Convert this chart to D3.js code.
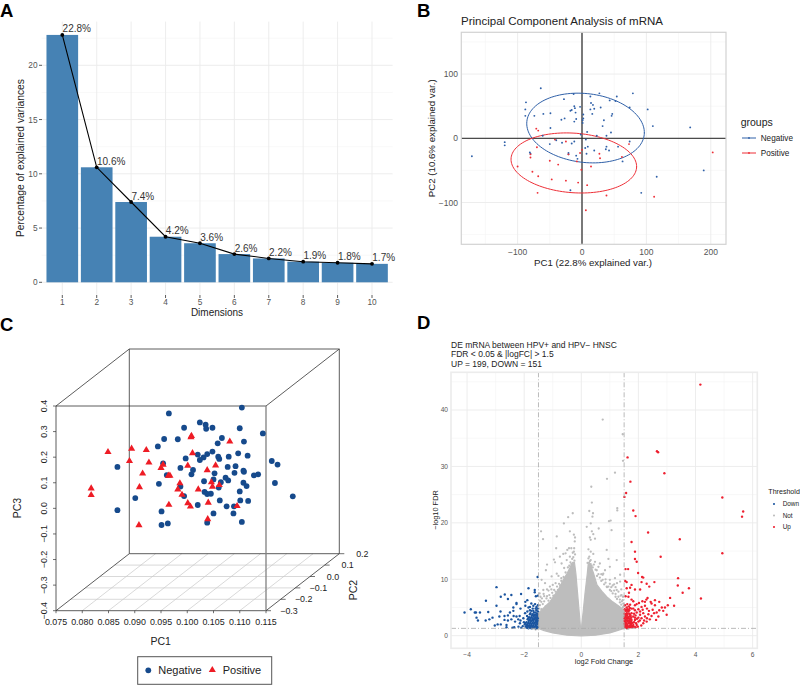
<!DOCTYPE html>
<html>
<head>
<meta charset="utf-8">
<script src="https://cdn.jsdelivr.net/npm/d3@7"></script>
<style>
html,body{margin:0;padding:0;background:#fff}
text{font-family:"Liberation Sans",Arial,sans-serif}
</style>
</head>
<body>
<svg id="c" width="800" height="685"></svg>
<script>
// ---------- Panel A data
const dims=[1,2,3,4,5,6,7,8,9,10];
const variances=[22.8,10.6,7.4,4.2,3.6,2.6,2.2,1.9,1.8,1.7];
const varianceLabels=["22.8%","10.6%","7.4%","4.2%","3.6%","2.6%","2.2%","1.9%","1.8%","1.7%"];
const aYTicks=[0,5,10,15,20];
// ---------- Panel B data: [PC1, PC2]
const bNegative=[[-171,-28],[-120,-6],[-120,-11],[-64,78],[-87,56],[-88,45],[-88,35],[-74,35],[-60,38],[-49,39],[-49,16],[-61,4],[-50,-9],[-40,-3],[-31,-7],[-32,29],[-27,31],[-28,61],[-13,69],[-12,50],[-11,47],[-16,44],[-18,43],[-10,40],[-12,26],[-9,30],[-3,49],[2,37],[2,31],[1,28],[1,24],[13,65],[14,55],[17,52],[19,46],[13,45],[16,38],[27,70],[43,59],[54,65],[52,58],[74,48],[79,70],[102,45],[110,19],[168,17],[29,48],[34,28],[32,19],[47,38],[46,35],[45,9],[38,4],[8,10],[23,4],[-2,6],[6,-2],[-16,-8],[-12,-5],[9,-13],[5,-15],[19,-19],[7,-24],[-9,-27],[-21,-23],[-21,-25],[-7,-32],[38,-13],[37,-17],[42,-19],[56,-13],[63,-36],[74,-5],[-80,-24],[-81,-22],[189,-50],[92,-85],[116,-60],[-18,-81]];
const bPositive=[[-71,15],[-68,12],[-70,-14],[-80,-25],[-80,-30],[-100,-44],[-77,-52],[-68,-59],[-47,-64],[-50,-35],[-37,-41],[-25,-66],[-69,-85],[-6,-69],[8,-73],[14,-44],[-1,-49],[-3,-23],[0,-18],[-25,-5],[-42,-2],[-21,-25],[-8,-36],[27,-24],[28,-31],[62,-29],[73,-9],[38,-89],[6,-112],[112,-91],[203,-22]];
// ellipse summary: centre x, centre y, half-width, half-height, correlation
const bEllipseNegative=[5.5,16,91.3,54.3,-0.13];
const bEllipsePositive=[-12.7,-38.4,97.5,46.8,-0.12];
const bMajor=[-100,0,100,200];
const bGroups=["Negative","Positive"];
// ---------- Panel C data: [PC1, PC3] as read against the front face of the box
const cNegative=[[.1104,.394],[.0965,.371],[.1024,.336],[.1035,.327],[.1036,.311],[.1048,.315],[.0994,.315],[.1100,.313],[.1144,.293],[.0956,.271],[.0982,.270],[.1066,.275],[.1058,.254],[.1108,.261],[.0944,.242],[.0867,.162],[.1020,.210],[.1038,.212],[.1048,.222],[.1059,.202],[.1061,.193],[.1079,.202],[.1097,.215],[.1115,.206],[.0997,.195],[.1024,.189],[.1031,.199],[.0954,.176],[.0987,.158],[.1011,.150],[.1008,.133],[.0961,.130],[.1077,.162],[.1092,.165],[.1090,.139],[.1107,.147],[.1108,.143],[.1052,.137],[.1127,.129],[.1135,.133],[.1161,.185],[.1172,.171],[.1167,.099],[.1201,.047],[.1032,.106],[.1073,.120],[.1078,.109],[.1050,.113],[.1064,.102],[.1060,.081],[.1107,.100],[.1113,.087],[.1100,.066],[.0946,.096],[.0987,.085],[.0994,.048],[.1033,.064],[.1038,.056],[.1045,.057],[.1062,.031],[.1101,.031],[.1116,.029],[.1020,.013],[.1075,.008],[.1089,.008],[.1088,-.020],[.1050,-.020],[.1104,-.053],[.1038,-.056],[.0951,-.012],[.0963,-.059],[.0951,-.065],[.0901,.040],[.0867,-.007]];
const cPositive=[[.0849,.220],[.0894,.233],[.0922,.228],[.0890,.185],[.0927,.179],[.0915,.136],[.0909,.083],[.0817,.078],[.0817,.052],[.0908,-.066],[.0954,.171],[.0950,.158],[.0964,.128],[.0967,.128],[.0986,.098],[.0982,.074],[.0990,.053],[.0965,.014],[.1001,.020],[.1006,.007],[.1008,.283],[.1007,.278],[.1010,.216],[.1001,.167],[.1081,.261],[.1054,.168],[.1038,.149],[.1046,.102],[.1048,.085],[.1061,.091],[.1021,.074],[.1040,.022],[.1095,.009],[.1039,-.042]];
const cPC1Ticks=[.075,.08,.085,.09,.095,.1,.105,.11,.115];
const cPC2Ticks=[-.3,-.2,-.1,0,.1,.2];
const cPC3Ticks=[-.4,-.3,-.2,-.1,0,.1,.2,.3,.4];
// ---------- Panel D data: [log2FC, -log10FDR]
const dMassOutline=[[-1.5,1.3],[-1.5,4],[-1.3,5],[-1.1,6],[-.98,6.9],[-.8,8.2],[-.63,9.9],[-.5,11],[-.38,12.2],[-.3,13],[-.24,13],[-.19,11],[-.13,7.5],[-.07,4],[-.02,1],[.01,1.6],[.07,4.5],[.13,7.5],[.21,11],[.24,12.6],[.3,12.8],[.42,11.2],[.55,9],[.75,7.7],[.89,6.9],[1.1,6],[1.36,5.1],[1.5,4.4],[1.5,1.3],[1.2,.8],[1,.5],[.5,.1],[0,-.05],[-.5,.1],[-1,.5],[-1.3,.9]];
const dNot=[[.75,38.3],[1.45,35.7],[1.46,31],[1.18,28.9],[.9,27.8],[.35,26.4],[.37,23.6],[.28,22.1],[1.26,22.6],[1.26,22.2],[.97,20.3],[1.03,20.4],[-.3,21.7],[-.46,21],[-.61,19.9],[-1.41,18.5],[-1.34,17.1],[-.86,17.6],[-.4,18.5],[-.26,17.9],[.39,21.1],[.41,21.7],[.33,19.9],[.19,19.3],[.61,19],[1.06,18.7],[.37,18.5],[.42,18],[.3,17.4],[.48,17.2],[.33,17],[-.22,17.4],[-.23,16.7],[-.43,15.5],[-.88,15.5],[-.49,15.2],[-.35,15.5],[-.25,15.5],[-.26,14.9],[-.96,13.5],[-.92,13],[-1.24,11.6],[-1.2,12.6],[-.55,14.6],[-.75,14],[-.63,14.5],[-.22,14.4],[.89,15.2],[.25,15.3],[.33,14.9],[.42,14.5],[.28,14],[.33,13.4],[.48,13.1],[.95,13.6],[1.24,13.4],[1,12.2],[.83,11.6],[1.36,10.8],[1.18,10.2],[1,9.9],[1.36,9.6],[1.24,8.1],[1.41,7.2],[1.45,6.3],[1.47,5.7],[-1.39,9.9],[-1.27,9.3],[-1.33,8.1],[-1.43,6.9],[-1.04,10.5],[-.86,11],[-.69,12.8],[-.51,13.4],[.77,11],[.65,12.8],[.54,11.6],[.89,8.7],[-1.2,7],[-1.05,8.2],[-.9,9.3],[-.7,10.2],[1.2,7.4],[1.05,8.6],[.85,10],[.7,10.9],[1.35,6.4],[-1.4,6],
[-1.48,4.8],[-1.45,5.4],[-1.4,4.7],[-1.35,5.6],[-1.3,6.1],[-1.25,5.2],[-1.22,6.6],[-1.15,6.2],[-1.12,7.2],[-1.08,6.7],[-1.02,7.6],[-.98,7.1],[-.95,8.1],[-.9,7.8],[-.85,8.7],[-.82,8.1],[-.78,9.2],[-.74,8.9],[-.7,9.7],[-.66,9.3],[-.62,10.4],[-.58,10],[-.55,11.2],[-.5,10.7],[-.47,12.1],[-.42,12.4],[-.38,13],[-.35,12.7],[-.32,13.6],[-.28,13.9],[-.24,13.3],[-.3,14.7],[-.4,14],[-.6,12],[-.8,10.6],[-1,9],[-1.15,8],[-1.3,7],
[.22,12.9],[.25,13.7],[.27,12.9],[.3,13.2],[.33,12.7],[.36,12.4],[.4,12.1],[.44,12.6],[.5,11.7],[.55,10.6],[.6,10.9],[.65,10.3],[.7,9.7],[.75,9.9],[.8,9.1],[.85,9.4],[.9,8.6],[.95,8.7],[1,8.1],[1.05,7.9],[1.1,7.5],[1.15,8],[1.2,6.9],[1.25,6.5],[1.3,6.9],[1.35,5.9],[1.4,5.5],[1.45,5],[1.48,5.2],[.6,12.2],[.75,10.8],[1,9.2],[1.2,8.6],[1.4,8.2],[-1.6,1.1],[-1.55,1.2],[-1.7,1.25],[1.6,1.2],[1.65,1.25],
[-1.45,6.2],[-1.38,6.6],[-1.32,7.4],[-1.46,7.5],[-1.2,8.2],[-1.1,8.7],[1.46,6.9],[1.38,7.1],[1.3,7.8],[1.42,6.1],[1.15,9.1],[1.1,8.9],[1.25,9.3]];
const dUp=[[4.17,44.5],[2.65,32.7],[2.69,32.5],[1.62,31.6],[2.91,28.8],[1.72,27.3],[1.57,25.3],[1.51,24.6],[4.94,24.5],[1.82,22.2],[1.9,21.2],[5.67,22],[5.63,21.1],[2.34,18.3],[3.45,17.1],[1.76,16.6],[1.88,14.9],[4.94,14.6],[1.88,13.6],[1.94,13.1],[2.78,14],[1.55,11.8],[1.64,11.8],[1.99,11.1],[2.13,10.4],[2.17,10.3],[3.39,10.2],[1.54,9.7],[1.59,9.5],[2.56,9.5],[2.29,9.2],[2.11,9.5],[3.38,8.9],[1.76,9],[2.38,8.7],[1.59,8.4],[1.71,8.5],[1.88,8.2],[2.06,8.2],[3.77,8.4],[3.55,7.6],[4.19,6.6],[3.11,6.7],[1.55,7],[1.67,7.6],[1.65,6.9],[3.25,5.3],[2.32,6.7],[2.28,6.4],[2.23,6],[2.14,6.1],[2.02,5.8],[1.94,5.6],[1.88,5.4],[1.76,6.4],[1.82,6.1],[1.71,5.5],[1.61,5.6],[1.59,5],[1.55,4.4],[1.68,4.5],[1.76,4.8],[1.88,4.5],[2,4.7],[2.11,5.1],[2.23,5.3],[2.37,4.4],[2.46,5.7],[2.58,6.3],[2.43,6],[2.73,6],[2.58,5.4],[2.82,5],[2.93,5],[2.87,4.4],[2.73,4.5],[2.64,4.1],[2.55,4],[2.46,3.5],[2.62,2.8],[2.99,3.7],[3.03,5.4],[2.17,4],[2.06,3.7],[2,3.2],[2.11,3.1],[2.23,3.4],[2.29,2.5],[2.17,2.2],[2,2.5],[1.94,1.9],[1.88,2.8],[1.82,3.4],[1.71,3.7],[1.59,4],[1.65,3.1],[1.76,2.8],[1.53,3.4],[1.53,2.8],[1.57,2.2],[1.53,1.7],[1.61,1.9],[1.71,2.2],[1.82,1.9],[1.71,1.5],[1.59,1.4],[1.76,1.6],[1.88,3.2],[1.65,4.3],[1.76,4],[1.94,4.1],[2.06,4.3],[1.55,1.5],[1.6,1.7],[1.65,1.5],[1.7,1.8],[1.55,2],[1.62,2.5],[1.7,2.6],[1.55,2.4],[1.6,3],[1.68,3.4],[1.55,3.7],[1.6,3.6],[1.75,2.2],[1.85,2.4],[1.8,1.7],[1.9,1.5],[1.65,2.2],[1.58,1.4],[1.72,3],[1.6,4.4],[1.82,4.8],[1.9,3.6],[1.95,3],[2.05,2.7],[2.3,3.1],[2.4,2.9],[2.35,3.8],
[1.52,2.1],[1.56,1.8],[1.63,1.6],[1.68,1.7],[1.74,1.9],[1.78,1.5],[1.84,1.6],[1.52,2.6],[1.58,2.7],[1.64,2.7],[1.68,2.4],[1.74,2.5],[1.8,2.3],[1.52,3.1],[1.57,3.3],[1.63,3.3],[1.69,3],[1.75,3.2],[1.52,3.9],[1.57,3.8],[1.62,3.9],[1.68,3.9],[1.73,3.5],[1.52,4.7],[1.58,4.6],[1.63,4.7],[1.7,4.9],[1.53,5.4],[1.66,5.2],[1.92,2.2],[1.98,1.6],[2.1,1.8],[2.2,2.7],[1.85,3.9],[2.15,4.6],[2.3,4.8],[2.5,4.6],[2.7,3.4]];
const dDown=[[-1.53,10.4],[-2.97,8.6],[-1.85,8.4],[-1.63,8.1],[-1.63,7.7],[-2.68,7.3],[-2.45,7.2],[-2.82,6.9],[-2.11,7.4],[-2.57,6.5],[-3.34,6.2],[-1.59,7],[-1.52,7.1],[-1.89,6.3],[-1.96,6],[-2.27,5.8],[-2.27,5.6],[-2.97,5.3],[-2.38,5],[-2.13,4.8],[-1.96,5.3],[-1.8,5.1],[-1.68,5.3],[-1.57,5.1],[-3.87,4.7],[-4.09,4.1],[-3.73,4.1],[-3.69,4.1],[-3.55,4.1],[-3.67,3.2],[-3.62,2.7],[-3.26,4.2],[-2.83,4.3],[-2.5,4.1],[-2.38,4.4],[-3.35,2.7],[-3.22,2.9],[-3.11,3.2],[-2.87,3.4],[-2.69,3.5],[-2.57,3.6],[-2.69,2.8],[-2.57,2.7],[-2.45,2.9],[-2.37,3.5],[-2.27,3.4],[-2.16,3.5],[-1.97,4],[-1.89,4.3],[-1.8,4.5],[-1.68,4.4],[-1.57,4.5],[-3.03,1.8],[-2.93,2],[-2.82,2],[-2.62,1.9],[-2.62,1.5],[-2.41,1.4],[-2.35,1.5],[-2.21,2.9],[-2.32,2.5],[-2.13,2.7],[-2.03,3.1],[-2.15,2.2],[-2.01,2.4],[-1.95,1.6],[-1.9,1.4],[-1.85,1.3],[-1.8,1.5],[-1.75,1.3],[-1.7,1.4],[-1.65,1.5],[-1.6,1.3],[-1.55,1.4],[-1.52,1.6],[-1.98,2],[-1.9,1.9],[-1.83,1.8],[-1.75,1.9],[-1.68,1.8],[-1.6,1.9],[-1.54,2],[-1.92,2.4],[-1.85,2.3],[-1.78,2.3],[-1.7,2.3],[-1.62,2.3],[-1.55,2.5],[-1.88,2.9],[-1.8,2.8],[-1.72,2.8],[-1.65,2.9],[-1.58,2.8],[-1.52,3],[-1.83,3.3],[-1.75,3.3],[-1.67,3.4],[-1.6,3.3],[-1.54,3.5],[-1.8,3.8],[-1.7,3.8],[-1.62,3.7],[-1.55,3.9],[-1.52,4.3],[-1.9,3.5],[-1.75,4.4],[-1.85,5],
[-1.58,1.7],[-1.63,1.6],[-1.72,1.6],[-1.78,1.7],[-1.87,1.6],[-1.93,1.7],[-1.53,2.2],[-1.57,2.3],[-1.66,2.1],[-1.74,2.1],[-1.81,2.1],[-1.88,2.1],[-1.96,2.2],[-1.53,2.7],[-1.6,2.6],[-1.68,2.6],[-1.76,2.6],[-1.84,2.6],[-1.53,3.3],[-1.57,3.1],[-1.63,3.1],[-1.7,3.1],[-1.78,3.1],[-1.86,3.1],[-1.57,3.6],[-1.65,3.6],[-1.73,3.6],[-1.78,4],[-1.53,3.8],[-1.6,4.1],[-1.66,4.1],[-1.53,4.8],[-1.6,4.8],[-1.7,4.8],[-1.52,5.4],[-1.62,5.6],[-1.75,5.7],[-2.05,1.7],[-2.1,1.4],[-2.2,1.6]];
const dThresholdX=[-1.5,1.5];
const dThresholdY=1.3;
const dXMajor=[-4,-2,0,2,4,6];
const dXMinor=[-3,-1,1,3,5];
const dYMajor=[0,10,20,30,40];
const dYMinor=[5,15,25,35,45];
const dLevels=["Down","Not","Up"];
const dTitleLines=["DE mRNA between HPV+ and HPV− HNSC","FDR < 0.05 & |logFC| > 1.5","UP = 199, DOWN = 151"];

const svg=d3.select("#c");
const MAJOR="#ebebeb",MINOR="#f3f3f3",TICKTXT="#555";
const minus=s=>String(s).replace("-","−");
function txt(g,x,y,s,size,opt={}){
  const t=g.append("text").attr("x",x).attr("y",y).attr("font-size",size).attr("fill",opt.fill||"#222")
   .attr("text-anchor",opt.anchor||"start").attr("font-weight",opt.weight||"normal").text(s);
  if(opt.rot!==undefined)t.attr("transform",`rotate(${opt.rot} ${x} ${y})`);
  return t;
}
const labels=[["A",0,16.5],["B",417,16.5],["C",0,331],["D",417,329]];
labels.forEach(l=>txt(svg,l[1],l[2],l[0],18.5,{weight:"bold",fill:"#000"}));

// ---------- Panel A
(function(){
  const g=svg.append("g");
  const L=41.7,R=392.6,T=21.6,B=294.7;
  const x=d3.scaleLinear().domain([1,10]).range([62.3,372]);
  const barW=(x(2)-x(1))*0.92;
  const y=d3.scaleLinear().domain([0,20]).range([282.3,65.3]);
  [2.5,7.5,12.5,17.5,22.5].forEach(v=>g.append("line").attr("x1",L).attr("x2",R).attr("y1",y(v)).attr("y2",y(v)).attr("stroke",MINOR).attr("stroke-width",.6));
  aYTicks.forEach(v=>g.append("line").attr("x1",L).attr("x2",R).attr("y1",y(v)).attr("y2",y(v)).attr("stroke",MAJOR).attr("stroke-width",.9));
  dims.forEach(d=>g.append("line").attr("x1",x(d)).attr("x2",x(d)).attr("y1",T).attr("y2",B).attr("stroke",MAJOR).attr("stroke-width",.9));
  g.selectAll("rect.bar").data(variances).join("rect").attr("class","bar")
    .attr("x",(d,i)=>x(dims[i])-barW/2).attr("width",barW).attr("y",d=>y(d)).attr("height",d=>y(0)-y(d)).attr("fill","#4682B4");
  const line=d3.line().x((d,i)=>x(dims[i])).y(d=>y(d));
  g.append("path").attr("d",line(variances)).attr("fill","none").attr("stroke","#000").attr("stroke-width",1.1);
  g.selectAll("circle").data(variances).join("circle").attr("cx",(d,i)=>x(dims[i])).attr("cy",d=>y(d)).attr("r",1.9).attr("fill","#000");
  variances.forEach((v,i)=>txt(g,x(dims[i])+0.3,y(v)-2.5,varianceLabels[i],10,{fill:"#333"}));
  dims.forEach(d=>{
    g.append("line").attr("x1",x(d)).attr("x2",x(d)).attr("y1",295).attr("y2",298).attr("stroke","#333").attr("stroke-width",.8);
    txt(g,x(d),305,d,8.3,{anchor:"middle",fill:TICKTXT});
  });
  aYTicks.forEach(v=>{
    g.append("line").attr("x1",39).attr("x2",42).attr("y1",y(v)).attr("y2",y(v)).attr("stroke","#333").attr("stroke-width",.8);
    txt(g,37.5,y(v)+3,v,8.3,{anchor:"end",fill:TICKTXT});
  });
  txt(g,217,316,"Dimensions",10,{anchor:"middle"});
  txt(g,24,158,"Percentage of explained variances",10.3,{anchor:"middle",rot:-90});
})();

// ---------- Panel B
(function(){
  const g=svg.append("g");
  const L=461.3,R=726,T=32.3,B=244.3;
  const x=d3.scaleLinear().domain([0,100]).range([582,646.4]);
  const y=d3.scaleLinear().domain([0,100]).range([138.3,74.1]);
  [-150,-50,50,150].forEach(v=>{
    g.append("line").attr("x1",x(v)).attr("x2",x(v)).attr("y1",T).attr("y2",B).attr("stroke",MINOR).attr("stroke-width",.6);
    g.append("line").attr("x1",L).attr("x2",R).attr("y1",y(v)).attr("y2",y(v)).attr("stroke",MINOR).attr("stroke-width",.6);
  });
  bMajor.forEach(v=>g.append("line").attr("x1",x(v)).attr("x2",x(v)).attr("y1",T).attr("y2",B).attr("stroke",MAJOR).attr("stroke-width",.9));
  [-100,0,100].forEach(v=>g.append("line").attr("x1",L).attr("x2",R).attr("y1",y(v)).attr("y2",y(v)).attr("stroke",MAJOR).attr("stroke-width",.9));
  g.append("line").attr("x1",x(0)).attr("x2",x(0)).attr("y1",T).attr("y2",B).attr("stroke","#5a5a5a").attr("stroke-width",1.6);
  g.append("line").attr("x1",L).attr("x2",R).attr("y1",y(0)).attr("y2",y(0)).attr("stroke","#222").attr("stroke-width",1);
  g.append("rect").attr("x",L).attr("y",T).attr("width",R-L).attr("height",B-T).attr("fill","none").attr("stroke","#d2d2d2").attr("stroke-width",1.2);
  const BL="#2f60a8",RD="#ee2f37";
  const ell=(p)=>{
    const ph=Math.acos(p[4]);
    const ts=d3.range(0,2*Math.PI+0.05,0.05);
    return d3.line().x(t=>x(p[0]+p[2]*Math.cos(t))).y(t=>y(p[1]+p[3]*Math.cos(t+ph)))(ts);
  };
  g.append("path").attr("d",ell(bEllipseNegative)).attr("fill","none").attr("stroke",BL).attr("stroke-width",1);
  g.append("path").attr("d",ell(bEllipsePositive)).attr("fill","none").attr("stroke",RD).attr("stroke-width",1);
  g.selectAll("circle.n").data(bNegative).join("circle").attr("class","n").attr("cx",d=>x(d[0])).attr("cy",d=>y(d[1])).attr("r",.95).attr("fill",BL);
  g.selectAll("circle.p").data(bPositive).join("circle").attr("class","p").attr("cx",d=>x(d[0])).attr("cy",d=>y(d[1])).attr("r",.95).attr("fill",RD);
  bMajor.forEach(v=>txt(g,x(v),255,minus(v),8.5,{anchor:"middle",fill:TICKTXT}));
  [-100,0,100].forEach(v=>txt(g,458,y(v)+3,minus(v),8.5,{anchor:"end",fill:TICKTXT}));
  txt(g,461,25,"Principal Component Analysis of mRNA",11.5,{fill:"#222"});
  txt(g,593,266,"PC1 (22.8% explained var.)",9.7,{anchor:"middle"});
  txt(g,435,138.3,"PC2 (10.6% explained var.)",9.7,{anchor:"middle",rot:-90});
  txt(g,740.7,126,"groups",10.5);
  bGroups.forEach((s,i)=>{
    const yy=138+i*15,c=i?RD:BL;
    g.append("line").attr("x1",742).attr("x2",756).attr("y1",yy).attr("y2",yy).attr("stroke",c).attr("stroke-width",1);
    g.append("circle").attr("cx",749).attr("cy",yy).attr("r",.9).attr("fill",c);
    txt(g,760.7,yy+3,s,8.2);
  });
})();

// ---------- Panel C
(function(){
  const g=svg.append("g");
  const xF=d3.scaleLinear().domain([.075,.115]).range([56,266]);
  const yF=d3.scaleLinear().domain([-.4,.4]).range([610.7,406]);
  const depth=d3.scaleLinear().domain([-.3,.2]).range([0,1]);
  const DX=73.3,DY=-57;
  const ink="#333";
  const ln=(a,b,c,d,col=ink,w=.8)=>g.append("line").attr("x1",a).attr("y1",b).attr("x2",c).attr("y2",d).attr("stroke",col).attr("stroke-width",w);
  const x0=xF(.075),x1=xF(.115),yB=yF(-.4),yT=yF(.4);
  cPC1Ticks.slice(1,-1).forEach(v=>ln(xF(v),yB,xF(v)+DX,yB+DY,"#c8c8c8",.7));
  cPC2Ticks.slice(1,-1).forEach(v=>{const d=depth(v);ln(x0+DX*d,yB+DY*d,x1+DX*d,yB+DY*d,"#c8c8c8",.7);});
  ln(x0+DX,yT+DY,x1+DX,yT+DY); ln(x0+DX,yT+DY,x0+DX,yB+DY); ln(x1+DX,yT+DY,x1+DX,yB+DY); ln(x0+DX,yB+DY,x1+DX,yB+DY);
  ln(x0,yT,x0+DX,yT+DY); ln(x1,yT,x1+DX,yT+DY); ln(x0,yB,x0+DX,yB+DY); ln(x1,yB,x1+DX,yB+DY);
  ln(x0,yT,x1,yT); ln(x0,yT,x0,yB); ln(x0,yB,x1,yB);
  ln(x1,yT,x1,yB,"#808080",1.3);
  cPC1Ticks.forEach(v=>{ln(xF(v),yB,xF(v),yB+2.5,ink,.7);txt(g,xF(v),625,v.toFixed(3),8.9,{anchor:"middle",fill:"#222"});});
  cPC3Ticks.forEach(v=>{ln(x0,yF(v),x0-3,yF(v),ink,.7);txt(g,47,yF(v),minus(v.toFixed(1)),8.9,{anchor:"middle",fill:"#222",rot:-90});});
  cPC2Ticks.forEach(v=>{const d=depth(v);const a=x1+DX*d,b=yB+DY*d;ln(a,b,a+5,b,ink,.7);txt(g,a+23,b+3,minus(v.toFixed(1)),8.9,{anchor:"middle",fill:"#222"});});
  txt(g,160.7,645,"PC1",10.5,{anchor:"middle"});
  txt(g,20.5,508,"PC3",10.5,{anchor:"middle",rot:-90});
  txt(g,357,590,"PC2",10.5,{anchor:"middle",rot:-90});
  const BL="#164a8c",RD="#ee1c25";
  g.selectAll("circle").data(cNegative).join("circle").attr("cx",d=>xF(d[0])).attr("cy",d=>yF(d[1])).attr("r",2.9).attr("fill",BL);
  const tri=d3.symbol().type(d3.symbolTriangle).size(22);
  g.selectAll("path.t").data(cPositive).join("path").attr("class","t").attr("d",tri)
    .attr("transform",d=>`translate(${xF(d[0])},${yF(d[1])})`).attr("fill",RD);
  g.append("rect").attr("x",137.7).attr("y",656.7).attr("width",134).attr("height",27.6).attr("fill","#fff").attr("stroke","#555").attr("stroke-width",1);
  g.append("circle").attr("cx",148.3).attr("cy",670.3).attr("r",2.9).attr("fill",BL);
  txt(g,158.3,674,"Negative",11);
  g.append("path").attr("d",tri).attr("transform","translate(212.3,670)").attr("fill",RD);
  txt(g,222.7,674,"Positive",11);
})();

// ---------- Panel D
(function(){
  const g=svg.append("g");
  const L=451,R=757.3,T=372.3,B=648.3;
  const x=d3.scaleLinear().domain([0,2]).range([581.3,638.4]);
  const y=d3.scaleLinear().domain([0,40]).range([635.7,410]);
  dXMinor.forEach(v=>g.append("line").attr("x1",x(v)).attr("x2",x(v)).attr("y1",T).attr("y2",B).attr("stroke",MINOR).attr("stroke-width",.6));
  dYMinor.forEach(v=>g.append("line").attr("x1",L).attr("x2",R).attr("y1",y(v)).attr("y2",y(v)).attr("stroke",MINOR).attr("stroke-width",.6));
  dXMajor.forEach(v=>g.append("line").attr("x1",x(v)).attr("x2",x(v)).attr("y1",T).attr("y2",B).attr("stroke",MAJOR).attr("stroke-width",.9));
  dYMajor.forEach(v=>g.append("line").attr("x1",L).attr("x2",R).attr("y1",y(v)).attr("y2",y(v)).attr("stroke",MAJOR).attr("stroke-width",.9));
  const GREY="#bdbdbd",BL="#1b55a0",RD="#ee2030";
  const mass=d3.line().x(d=>x(d[0])).y(d=>y(d[1])).curve(d3.curveLinearClosed);
  g.append("path").attr("d",mass(dMassOutline)).attr("fill",GREY).attr("stroke",GREY).attr("stroke-width",1.2).attr("stroke-linejoin","round");
  g.selectAll("circle.g").data(dNot).join("circle").attr("class","g").attr("cx",d=>x(d[0])).attr("cy",d=>y(d[1])).attr("r",1.15).attr("fill",GREY);
  g.selectAll("circle.b").data(dDown).join("circle").attr("class","b").attr("cx",d=>x(d[0])).attr("cy",d=>y(d[1])).attr("r",1.2).attr("fill",BL);
  g.selectAll("circle.r").data(dUp).join("circle").attr("class","r").attr("cx",d=>x(d[0])).attr("cy",d=>y(d[1])).attr("r",1.2).attr("fill",RD);
  const dash="5 2 1 2";
  dThresholdX.forEach(v=>g.append("line").attr("x1",x(v)).attr("x2",x(v)).attr("y1",T).attr("y2",B).attr("stroke","#aaa").attr("stroke-width",.8).attr("stroke-dasharray",dash));
  g.append("line").attr("x1",L).attr("x2",R).attr("y1",y(dThresholdY)).attr("y2",y(dThresholdY)).attr("stroke","#aaa").attr("stroke-width",.8).attr("stroke-dasharray",dash);
  g.append("rect").attr("x",L).attr("y",T).attr("width",R-L).attr("height",B-T).attr("fill","none").attr("stroke","#ececec").attr("stroke-width",1.6);
  dXMajor.forEach(v=>txt(g,x(v),657,minus(v),6.6,{anchor:"middle",fill:TICKTXT}));
  dYMajor.forEach(v=>txt(g,448,y(v)+2.3,v,6.6,{anchor:"end",fill:TICKTXT}));
  dTitleLines.forEach((s,i)=>txt(g,451,348+i*9.4,s,8.5,{fill:"#222"}));
  txt(g,604,664,"log2 Fold Change",7.4,{anchor:"middle"});
  txt(g,438,510,"−log10 FDR",7.4,{anchor:"middle",rot:-90});
  txt(g,768.3,494,"Threshold",7.1);
  dLevels.forEach((s,i)=>{
    const yy=504+i*11.5;
    g.append("circle").attr("cx",774).attr("cy",yy).attr("r",1.05).attr("fill",[BL,GREY,RD][i]);
    txt(g,782.7,yy+2.3,s,6.4);
  });
})();
</script>
</body>
</html>
